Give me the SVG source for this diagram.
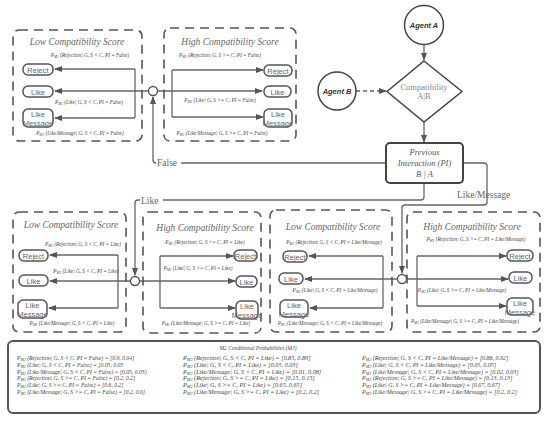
<svg xmlns="http://www.w3.org/2000/svg" width="550" height="423" viewBox="0 0 550 423">
<style>
.dbox{fill:none;stroke:#555;stroke-width:1.6;stroke-dasharray:9 6}
.node{fill:#fff;stroke:#555;stroke-width:1.5}
.ntxt{font-family:"Liberation Sans",sans-serif;font-size:7.5px;fill:#666;text-anchor:middle}
.ttl{font-family:"Liberation Serif",serif;font-style:italic;font-size:9.5px;fill:#666;text-anchor:middle}
.pl{font-family:"Liberation Serif",serif;font-style:italic;font-size:5.2px;fill:#444;text-anchor:middle}
.c{fill:none;stroke:#666;stroke-width:1.3}
.ca{fill:none;stroke:#666;stroke-width:1.3;marker-end:url(#ah)}
.jn{fill:#fff;stroke:#555;stroke-width:1.4}
.lbl{font-family:"Liberation Serif",serif;font-size:9.5px;fill:#666}
.tb{font-family:"Liberation Serif",serif;font-style:italic;fill:#444}
.sub{font-size:70%}
</style>
<defs>
<marker id="ah" markerWidth="8" markerHeight="6" refX="7" refY="3" orient="auto" markerUnits="userSpaceOnUse">
<path d="M0,0 L8,3 L0,6 z" fill="#555"/>
</marker>
</defs>
<rect width="550" height="423" fill="#fff"/>

<g id="connectors">
<path class="ca" d="M424,45 V60"/>
<path class="ca" d="M356,91 H386" stroke-dasharray="4 3"/>
<path class="ca" d="M424,122 V142"/>
<path class="ca" d="M386,163 H156 Q153,163 153,160 V97"/>
<path class="ca" d="M148.5,91 H55"/>
<path class="ca" d="M157.5,91 H262"/>
<path class="c" d="M135,69 V118"/>
<path class="ca" d="M135,69 H55"/>
<path class="ca" d="M135,118 H55"/>
<path class="c" d="M172,70 V117"/>
<path class="ca" d="M172,70 H263"/>
<path class="ca" d="M172,117 H263"/>
<path class="ca" d="M424,183 V197 Q424,200 421,200 H138 Q135,200 135,203 V275"/>
<path class="ca" d="M463,163 H484 Q487,163 487,166 V202 Q487,205 484,205 H405 Q402,205 402,208 V273"/>
<path class="ca" d="M130.5,281 H50"/>
<path class="ca" d="M139.5,281 H235"/>
<path class="c" d="M118,255 V308"/>
<path class="ca" d="M118,255 H50"/>
<path class="ca" d="M118,308 H49"/>
<path class="c" d="M160,256 V308"/>
<path class="ca" d="M160,256 H233"/>
<path class="ca" d="M160,308 H235"/>
<path class="ca" d="M397.5,279 H305"/>
<path class="ca" d="M406.5,279 H508"/>
<path class="c" d="M383,256 V308"/>
<path class="ca" d="M383,256 H309"/>
<path class="ca" d="M383,308 H310"/>
<path class="c" d="M417,256 V306"/>
<path class="ca" d="M417,256 H506"/>
<path class="ca" d="M417,306 H506"/>
<rect x="156" y="157" width="25" height="10" fill="#fff"/>
<text class="lbl" x="157" y="166">False</text>
<rect x="140" y="195" width="23" height="10" fill="#fff"/>
<text class="lbl" x="141" y="204">Like</text>
<text class="lbl" x="457" y="198">Like/Message</text>
</g>

<g id="junction-top"><circle class="jn" cx="153" cy="91" r="4.5"/></g>
<g id="junction-like"><circle class="jn" cx="135" cy="281" r="4.5"/></g>
<g id="junction-likemsg"><circle class="jn" cx="402" cy="279" r="4.5"/></g>

<g id="agent-a">
<circle cx="424" cy="25" r="19.5" fill="#fff" stroke="#444" stroke-width="1.5"/>
<text x="424" y="28" font-family="Liberation Sans,sans-serif" font-size="7.5" font-weight="bold" font-style="italic" fill="#333" text-anchor="middle">Agent A</text>
</g>
<g id="agent-b">
<circle cx="337" cy="91" r="19" fill="#fff" stroke="#444" stroke-width="1.5"/>
<text x="337" y="94" font-family="Liberation Sans,sans-serif" font-size="7.5" font-weight="bold" font-style="italic" fill="#333" text-anchor="middle">Agent B</text>
</g>
<g id="compatibility">
<path d="M424,61 L462,91.5 L424,122 L387,91.5 Z" fill="#fff" stroke="#444" stroke-width="1.5"/>
<text x="424" y="90" font-family="Liberation Serif,serif" font-size="8.5" fill="#888" text-anchor="middle">Compatibility</text>
<text x="424" y="99" font-family="Liberation Serif,serif" font-size="8.5" fill="#888" text-anchor="middle">A|B</text>
</g>
<g id="previous-interaction">
<rect x="386" y="143" width="77" height="40" rx="4" fill="#fff" stroke="#444" stroke-width="2"/>
<text x="424.5" y="155" font-family="Liberation Serif,serif" font-style="italic" font-size="8.5" fill="#555" text-anchor="middle">Previous</text>
<text x="424.5" y="166" font-family="Liberation Serif,serif" font-style="italic" font-size="8.5" fill="#555" text-anchor="middle">Interaction (PI)</text>
<text x="424.5" y="177" font-family="Liberation Serif,serif" font-style="italic" font-size="8.5" fill="#555" text-anchor="middle">B  |  A</text>
</g>

<g id="top-low">
<rect class="dbox" x="13" y="30" width="129" height="111" rx="6"/>
<text class="ttl" x="77" y="45">Low Compatibility Score</text>
<text class="pl" x="90" y="57">P<tspan class="sub" dy="1">M1</tspan><tspan dy="-1"> (Rejection| G, S &lt; C, PI = False)</tspan></text>
<text class="pl" x="89" y="104">P<tspan class="sub" dy="1">M1</tspan><tspan dy="-1"> (Like| G, S &lt; C, PI = False)</tspan></text>
<text class="pl" x="80" y="135">P<tspan class="sub" dy="1">M1</tspan><tspan dy="-1"> (Like/Message| G, S &lt; C, PI = False)</tspan></text>
<g id="tl-reject"><rect class="node" x="23" y="64" width="30" height="11" rx="5"/><text class="ntxt" x="38" y="72.5">Reject</text></g>
<g id="tl-like"><rect class="node" x="23" y="86" width="30" height="11" rx="5"/><text class="ntxt" x="38" y="94.5">Like</text></g>
<g id="tl-likemsg"><rect class="node" x="23" y="109" width="30" height="18" rx="5"/><text class="ntxt" x="38" y="117">Like</text><text class="ntxt" x="38" y="126">Message</text></g>
</g>

<g id="top-high">
<rect class="dbox" x="164" y="28" width="132" height="113" rx="6"/>
<text class="ttl" x="230" y="45">High Compatibility Score</text>
<text class="pl" x="220" y="57">P<tspan class="sub" dy="1">M1</tspan><tspan dy="-1"> (Rejection| G, S &gt;= C, PI = False)</tspan></text>
<text class="pl" x="220" y="102">P<tspan class="sub" dy="1">M1</tspan><tspan dy="-1"> (Like| G, S &gt;= C, PI = False)</tspan></text>
<text class="pl" x="222" y="135">P<tspan class="sub" dy="1">M1</tspan><tspan dy="-1"> (Like/Message| G, S &gt;= C, PI = False)</tspan></text>
<g id="th-reject"><rect class="node" x="264" y="65" width="28" height="11" rx="5"/><text class="ntxt" x="278" y="73.5">Reject</text></g>
<g id="th-like"><rect class="node" x="264" y="86" width="27" height="11" rx="5"/><text class="ntxt" x="277.5" y="94.5">Like</text></g>
<g id="th-likemsg"><rect class="node" x="264" y="109" width="28" height="18" rx="5"/><text class="ntxt" x="278" y="117">Like</text><text class="ntxt" x="278" y="126">Message</text></g>
</g>

<g id="like-low">
<rect class="dbox" x="13" y="212" width="113" height="120" rx="6"/>
<text class="ttl" x="71" y="228">Low Compatibility Score</text>
<text class="pl" x="83" y="246">P<tspan class="sub" dy="1">M1</tspan><tspan dy="-1"> (Rejection| G, S &lt; C, PI = Like)</tspan></text>
<text class="pl" x="86" y="273">P<tspan class="sub" dy="1">M1</tspan><tspan dy="-1"> (Like| G, S &lt; C, PI = Like)</tspan></text>
<text class="pl" x="72" y="325">P<tspan class="sub" dy="1">M1</tspan><tspan dy="-1"> (Like/Message| G, S &lt; C, PI = Like)</tspan></text>
<g id="b1-reject"><rect class="node" x="19" y="250" width="29" height="11" rx="5"/><text class="ntxt" x="33.5" y="258.5">Reject</text></g>
<g id="b1-like"><rect class="node" x="19" y="275" width="29" height="11" rx="5"/><text class="ntxt" x="33.5" y="283.5">Like</text></g>
<g id="b1-likemsg"><rect class="node" x="18" y="300" width="29" height="18" rx="5"/><text class="ntxt" x="32.5" y="308">Like</text><text class="ntxt" x="32.5" y="317">Message</text></g>
</g>

<g id="like-high">
<rect class="dbox" x="143" y="212" width="118" height="121" rx="6"/>
<text class="ttl" x="205" y="231">High Compatibility Score</text>
<text class="pl" x="205" y="244">P<tspan class="sub" dy="1">M1</tspan><tspan dy="-1"> (Rejection| G, S &gt;= C, PI = Like)</tspan></text>
<text class="pl" x="198" y="270">P<tspan class="sub" dy="1">M1</tspan><tspan dy="-1"> (Like| G, S &gt;= C, PI = Like)</tspan></text>
<text class="pl" x="206" y="325">P<tspan class="sub" dy="1">M1</tspan><tspan dy="-1"> (Like/Message| G, S &gt;= C, PI = Like)</tspan></text>
<g id="b2-reject"><rect class="node" x="234" y="250" width="23" height="11" rx="5"/><text class="ntxt" x="245.5" y="258.5">Reject</text></g>
<g id="b2-like"><rect class="node" x="236" y="276" width="21" height="11" rx="5"/><text class="ntxt" x="246.5" y="284.5">Like</text></g>
<g id="b2-likemsg"><rect class="node" x="236" y="301" width="22" height="18" rx="5"/><text class="ntxt" x="247" y="309">Like</text><text class="ntxt" x="247" y="318">Message</text></g>
</g>

<g id="likemsg-low">
<rect class="dbox" x="270" y="210" width="122" height="122" rx="6"/>
<text class="ttl" x="333" y="230">Low Compatibility Score</text>
<text class="pl" x="334" y="244">P<tspan class="sub" dy="1">M1</tspan><tspan dy="-1"> (Rejection| G, S &lt; C, PI = Like/Message)</tspan></text>
<text class="pl" x="335" y="292">P<tspan class="sub" dy="1">M1</tspan><tspan dy="-1"> (Like| G, S &lt; C, PI = Like/Message)</tspan></text>
<text class="pl" x="330" y="325">P<tspan class="sub" dy="1">M1</tspan><tspan dy="-1"> (Like/Message| G, S &lt; C, PI = Like/Message)</tspan></text>
<g id="b3-reject"><rect class="node" x="283" y="251" width="24" height="11" rx="5"/><text class="ntxt" x="295" y="259.5">Reject</text></g>
<g id="b3-like"><rect class="node" x="279" y="273" width="24" height="11" rx="5"/><text class="ntxt" x="291" y="281.5">Like</text></g>
<g id="b3-likemsg"><rect class="node" x="280" y="300" width="28" height="17" rx="5"/><text class="ntxt" x="294" y="308">Like</text><text class="ntxt" x="294" y="317">Message</text></g>
</g>

<g id="likemsg-high">
<rect class="dbox" x="407" y="212" width="133" height="120" rx="6"/>
<text class="ttl" x="472" y="230">High Compatibility Score</text>
<text class="pl" x="476" y="241">P<tspan class="sub" dy="1">M1</tspan><tspan dy="-1"> (Rejection| G, S &gt;= C, PI = Like/Message)</tspan></text>
<text class="pl" x="462" y="292">P<tspan class="sub" dy="1">M1</tspan><tspan dy="-1"> (Like| G, S &gt;= C, PI = Like/Message)</tspan></text>
<text class="pl" x="465" y="323">P<tspan class="sub" dy="1">M1</tspan><tspan dy="-1"> (Like/Message| G, S &gt;= C, PI = Like/Message)</tspan></text>
<g id="b4-reject"><rect class="node" x="507" y="250" width="26" height="11" rx="5"/><text class="ntxt" x="520" y="258.5">Reject</text></g>
<g id="b4-like"><rect class="node" x="509" y="272" width="23" height="11" rx="5"/><text class="ntxt" x="520.5" y="280.5">Like</text></g>
<g id="b4-likemsg"><rect class="node" x="507" y="298" width="26" height="17" rx="5"/><text class="ntxt" x="520" y="306">Like</text><text class="ntxt" x="520" y="315">Message</text></g>
</g>

<g id="m2-table">
<rect x="8" y="341" width="532" height="72" rx="5" fill="#fff" stroke="#555" stroke-width="2"/>
<text class="tb" x="258" y="350" font-size="5.5" text-anchor="middle">M2 Conditional Probabilities (MJ)</text>
<g font-size="5.7">
<text class="tb" x="17" y="360">P<tspan class="sub" dy="1">M2</tspan><tspan dy="-1"> (Rejection| G, S &lt; C, PI = False) = [0.9, 0.94]</tspan></text>
<text class="tb" x="17" y="366.8">P<tspan class="sub" dy="1">M2</tspan><tspan dy="-1"> (Like| G, S &lt; C, PI = False) = [0.05, 0.03</tspan></text>
<text class="tb" x="17" y="373.6">P<tspan class="sub" dy="1">M2</tspan><tspan dy="-1"> (Like/Message| G, S &lt; C, PI = False) = [0.05, 0.03)</tspan></text>
<text class="tb" x="17" y="380.4">P<tspan class="sub" dy="1">M2</tspan><tspan dy="-1"> (Rejection| G, S &gt;= C, PI = False) = [0.2, 0.2]</tspan></text>
<text class="tb" x="17" y="387.2">P<tspan class="sub" dy="1">M2</tspan><tspan dy="-1"> (Like| G, S &gt;= C, PI = False) = [0.6, 0.2]</tspan></text>
<text class="tb" x="17" y="394">P<tspan class="sub" dy="1">M2</tspan><tspan dy="-1"> (Like/Message| G, S &gt;= C, PI = False) = [0.2, 0.6]</tspan></text>
</g>
<g font-size="6.2">
<text class="tb" x="183" y="360">P<tspan class="sub" dy="1">M2</tspan><tspan dy="-1"> (Rejection| G, S &lt; C, PI = Like) = [0.85, 0.89]</tspan></text>
<text class="tb" x="183" y="366.8">P<tspan class="sub" dy="1">M2</tspan><tspan dy="-1"> (Like| G, S &lt; C, PI = Like) = [0.05, 0.03]</tspan></text>
<text class="tb" x="183" y="373.6">P<tspan class="sub" dy="1">M2</tspan><tspan dy="-1"> (Like/Message| G, S &lt; C, PI = Like) = [0.01, 0.08]</tspan></text>
<text class="tb" x="183" y="380.4">P<tspan class="sub" dy="1">M2</tspan><tspan dy="-1"> (Rejection| G, S &gt;= C, PI = Like) = [0.15, 0.15]</tspan></text>
<text class="tb" x="183" y="387.2">P<tspan class="sub" dy="1">M2</tspan><tspan dy="-1"> (Like| G, S &gt;= C, PI = Like) = [0.65, 0.65]</tspan></text>
<text class="tb" x="183" y="394">P<tspan class="sub" dy="1">M2</tspan><tspan dy="-1"> (Like/Message| G, S &gt;= C, PI = Like) = [0.2, 0.2]</tspan></text>
</g>
<g font-size="6">
<text class="tb" x="362" y="360">P<tspan class="sub" dy="1">M2</tspan><tspan dy="-1"> (Rejection| G, S &lt; C, PI = Like/Message) = [0.88, 0.92]</tspan></text>
<text class="tb" x="362" y="366.8">P<tspan class="sub" dy="1">M2</tspan><tspan dy="-1"> (Like| G, S &lt; C, PI = Like/Message) = [0.05, 0.05]</tspan></text>
<text class="tb" x="362" y="373.6">P<tspan class="sub" dy="1">M2</tspan><tspan dy="-1"> (Like/Message| G, S &lt; C, PI = Like/Message) = [0.02, 0.03]</tspan></text>
<text class="tb" x="362" y="380.4">P<tspan class="sub" dy="1">M2</tspan><tspan dy="-1"> (Rejection| G, S &gt;= C, PI = Like/Message) = [0.13, 0.13]</tspan></text>
<text class="tb" x="362" y="387.2">P<tspan class="sub" dy="1">M2</tspan><tspan dy="-1"> (Like| G, S &gt;= C, PI = Like/Message) = [0.67, 0.67]</tspan></text>
<text class="tb" x="362" y="394">P<tspan class="sub" dy="1">M2</tspan><tspan dy="-1"> (Like/Message| G, S &gt;= C, PI = Like/Message) = [0.2, 0.2]</tspan></text>
</g>
</g>
</svg>
